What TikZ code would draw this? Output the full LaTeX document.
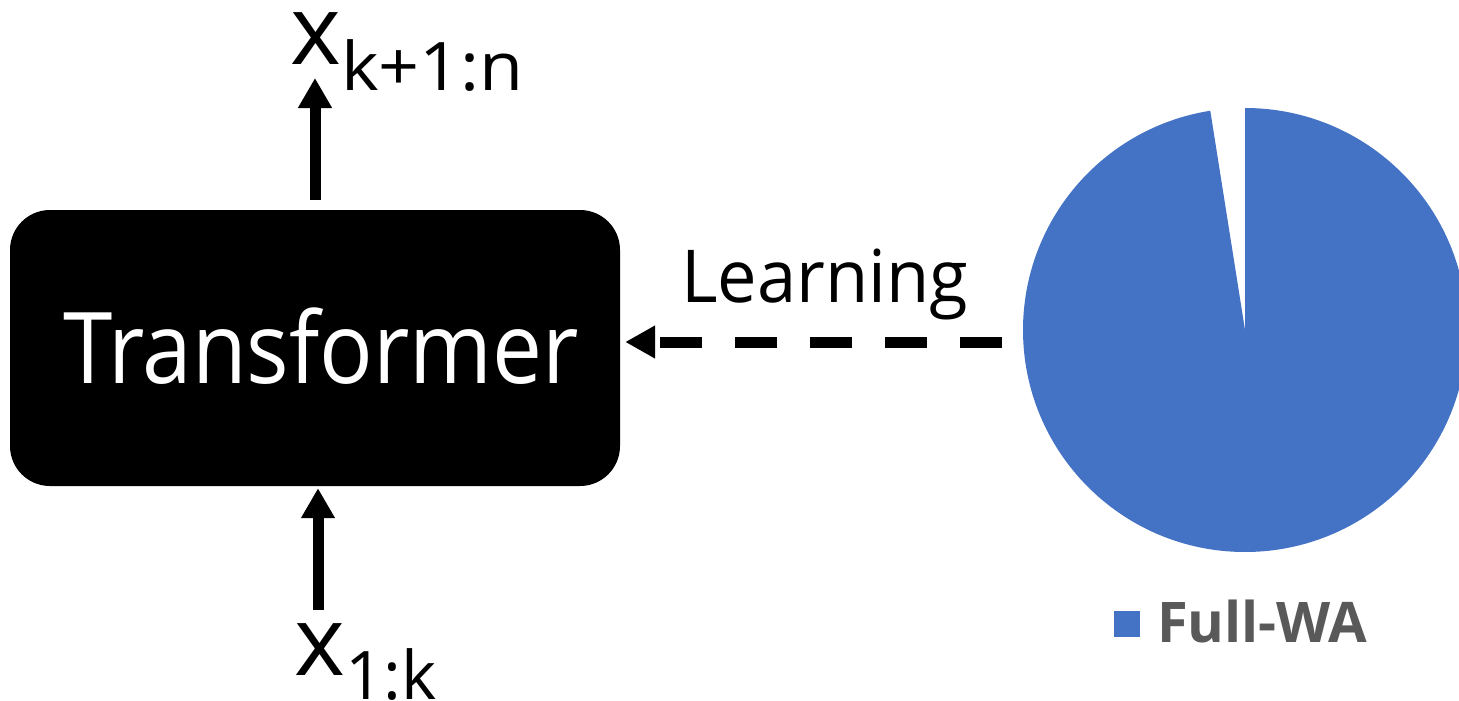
\documentclass[tikz,border=0pt]{standalone}
\usepackage{fontspec}
\setmainfont{Open Sans}
\usetikzlibrary{arrows.meta}
\definecolor{pieblue}{HTML}{4472C4}
\definecolor{leggray}{HTML}{595959}
\newcommand{\fsz}[1]{\fontsize{#1}{#1}\selectfont}
\tikzset{
  blackbox/.style={draw=none, fill=black, rounded corners=40pt, minimum width=610pt, minimum height=276pt, inner sep=0pt},
  thickarrow/.style={line width=11pt, -{Triangle[length=30pt,width=32pt]}},
  learnarrow/.style={line width=11pt, dash pattern=on 42pt off 33pt, -{Triangle[length=30pt,width=31pt]}},
  txt/.style={inner sep=0pt, anchor=base west},
}
\begin{document}
\begin{tikzpicture}[x=1pt,y=-1pt]
\clip (0,0) rectangle (1459,701);
\useasboundingbox (0,0) rectangle (1459,701);
% Transformer box
\node[blackbox] (box) at (315,348) {};
\node[txt, anchor=base, text=white] (tname) at (321,383) {\fsz{99pt}\scalebox{0.9}[1]{Transformer}};
% labels
\node[txt] (xout) at (290,65) {\fsz{97pt}x\raisebox{-25pt}{\fsz{67pt}\scalebox{1.07}[1]{k+1:n}}};
\node[txt] (xin) at (294,675) {\fsz{97pt}x\raisebox{-24pt}{\fsz{67pt}1:k}};
% arrows
\coordinate (toptip) at (315,78);
\draw[thickarrow] ([yshift=10pt]box.north) -- (toptip);
\coordinate (botstart) at (318,610);
\draw[thickarrow, shorten >=2pt] (botstart) -- (box.south -| botstart);
% pie (y axis points down, so angles are mirrored)
\coordinate (pc) at (1245,330);
\fill[pieblue] (pc) -- ++(-90:222) arc[start angle=-90, end angle=261, radius=222] -- cycle;
% learning
\coordinate (learnstart) at (1002,342);
\draw[learnarrow, shorten >=5pt] (learnstart) -- (box.east |- learnstart);
\node[txt] (learn) at (681,302) {\fsz{73pt}\scalebox{0.965}[1]{Learning}};
% legend
\node[fill=pieblue, minimum size=26pt, inner sep=0pt] (legsq) at (1127,624) {};
\node[txt, text=leggray] (legtxt) at (1157,642) {\fsz{56pt}\bfseries Full-WA};
\end{tikzpicture}
\end{document}
